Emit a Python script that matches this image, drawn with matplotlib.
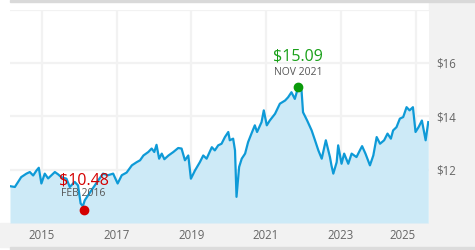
import matplotlib
matplotlib.use('Agg')
import matplotlib.pyplot as plt
from matplotlib.patches import Rectangle

plt.rcParams['font.family'] = ['Open Sans', 'DejaVu Sans']

# dates as decimal years, prices in $
dates = [2014.15, 2014.28, 2014.45, 2014.59, 2014.68, 2014.77, 2014.86, 2014.92, 2014.99,
         2015.08, 2015.17, 2015.26, 2015.35, 2015.44, 2015.52, 2015.66, 2015.75, 2015.88, 2015.97,
         2016.04, 2016.10, 2016.15, 2016.24, 2016.33, 2016.42, 2016.51, 2016.64, 2016.77, 2016.91, 2017.03,
         2017.14, 2017.27, 2017.41, 2017.54, 2017.63, 2017.72, 2017.85, 2017.94,
         2018.01, 2018.07, 2018.14, 2018.21, 2018.28, 2018.39, 2018.52, 2018.65, 2018.74, 2018.83, 2018.92, 2018.99,
         2019.10, 2019.23, 2019.32, 2019.41, 2019.55, 2019.63, 2019.72, 2019.81, 2019.90, 2019.99,
         2020.03, 2020.12, 2020.17, 2020.21, 2020.28, 2020.35, 2020.44, 2020.52, 2020.61, 2020.70, 2020.76, 2020.88, 2020.94,
         2021.02, 2021.10, 2021.24, 2021.37, 2021.51, 2021.59, 2021.68, 2021.77, 2021.86, 2021.95, 2021.99,
         2022.10, 2022.22, 2022.31, 2022.40, 2022.49, 2022.60, 2022.71, 2022.75, 2022.80, 2022.89, 2022.93,
         2023.02, 2023.09, 2023.20, 2023.29, 2023.42, 2023.51, 2023.57, 2023.66, 2023.78, 2023.87, 2023.96,
         2024.05, 2024.16, 2024.25, 2024.34, 2024.40, 2024.49, 2024.58, 2024.67, 2024.76, 2024.84, 2024.93,
         2025.00, 2025.08, 2025.17, 2025.27, 2025.34]
prices = [11.38, 11.35, 11.72, 11.85, 11.91, 11.78, 11.97, 12.07, 11.48,
          11.85, 11.67, 11.79, 11.91, 11.82, 11.72, 11.66, 11.35, 11.54, 11.41,
          10.73, 10.63, 10.85, 11.04, 11.23, 11.41, 11.60, 11.85, 11.79, 11.85, 11.48,
          11.79, 11.89, 12.16, 12.28, 12.35, 12.53, 12.66, 12.79,
          12.66, 12.93, 12.41, 12.60, 12.39, 12.53, 12.66, 12.81, 12.79, 12.35, 12.53, 11.66,
          11.97, 12.28, 12.53, 12.41, 12.84, 12.72, 12.91, 12.97, 13.22, 13.41,
          13.10, 13.16, 12.72, 10.98, 12.10, 12.41, 12.60, 13.03, 13.35, 13.66, 13.41, 13.78, 14.22,
          13.66, 13.84, 14.09, 14.47, 14.59, 14.71, 14.90, 14.65, 15.09, 14.96, 14.15,
          13.84, 13.47, 13.10, 12.72, 12.41, 13.10, 12.47, 12.16, 11.85, 12.28, 12.91,
          12.22, 12.60, 12.22, 12.60, 12.47, 12.72, 12.88, 12.60, 12.16, 12.53, 13.22,
          12.97, 13.10, 13.35, 13.16, 13.47, 13.59, 13.91, 13.97, 14.34, 14.22, 14.34,
          13.41, 13.59, 13.84, 13.10, 13.78]

high_date, high_price, high_label = 2021.86, 15.09, 'NOV 2021'
low_date, low_price, low_label = 2016.12, 10.48, 'FEB 2016'

year_ticks = [2015, 2017, 2019, 2021, 2023, 2025]
price_ticks = [12, 14, 16, 18]
price_labels = ['$12', '$14', '$16', '']

W, H = 475, 250
fig = plt.figure(figsize=(4.75, 2.5), dpi=100, facecolor='white')

# background bands (below the axes so tick labels stay visible)
bands = [((0, 3), (475, 24), '#f2f2f2'),
         ((429, 3), (46, 245), '#f2f2f2'),
         ((10, 248), (465, 2), '#d9d9d9'),
         ((10, 0), (465, 3), '#dcdcdc')]
for (x0, y0), (w, h), c in bands:
    fig.patches.append(Rectangle((x0 / W, y0 / H), w / W, h / H, transform=fig.transFigure,
                                 color=c, zorder=-5))

ax = fig.add_axes([10 / W, 27 / H, 419 / W, 213.5 / H])
ax.set_facecolor('white')

ax.fill_between(dates, prices, 10, color='#cdeaf7', lw=0, zorder=2)
ax.plot(dates, prices, color='#0e9ad7', lw=1.6, zorder=3)

ax.set_xlim(dates[0], 2025.36)
ax.set_ylim(10, 18)

ax.set_xticks(year_ticks)
ax.set_xticklabels([str(y) for y in year_ticks])
ax.get_xticklabels()[-1].set_ha('right')
ax.set_yticks(price_ticks)
ax.set_yticklabels(price_labels)
ax.yaxis.tick_right()
ax.tick_params(axis='x', length=0, pad=4.5, labelsize=8.3, labelcolor='#666666')
ax.tick_params(axis='y', length=0, pad=5.5, labelsize=8.3, labelcolor='#666666')
ax.grid(True, color='#f2f2f2', lw=1.6, zorder=1)
ax.set_axisbelow(True)
for s in ax.spines.values():
    s.set_visible(False)

# high / low markers
ax.plot([high_date], [high_price], 'o', color='#0a9a0a', ms=6, zorder=4, clip_on=False)
ax.plot([low_date], [low_price], 'o', color='#d40000', ms=6, zorder=4, clip_on=False)
ax.annotate('$%.2f' % high_price, (high_date, high_price), xytext=(0, 31),
            textcoords='offset pixels', ha='center', va='center', fontsize=11.5, color='#19a019', zorder=5)
ax.annotate(high_label, (high_date, high_price), xytext=(0, 15),
            textcoords='offset pixels', ha='center', va='center', fontsize=7.5, color='#555555', zorder=5)
ax.annotate('$%.2f' % low_price, (low_date, low_price), xytext=(0, 30),
            textcoords='offset pixels', ha='center', va='center', fontsize=11.5, color='#d40000', zorder=5)
ax.annotate(low_label, (low_date, low_price), xytext=(0, 17),
            textcoords='offset pixels', ha='center', va='center', fontsize=7.5, color='#555555', zorder=5)

fig.savefig('out.png', dpi=100, facecolor='white')
